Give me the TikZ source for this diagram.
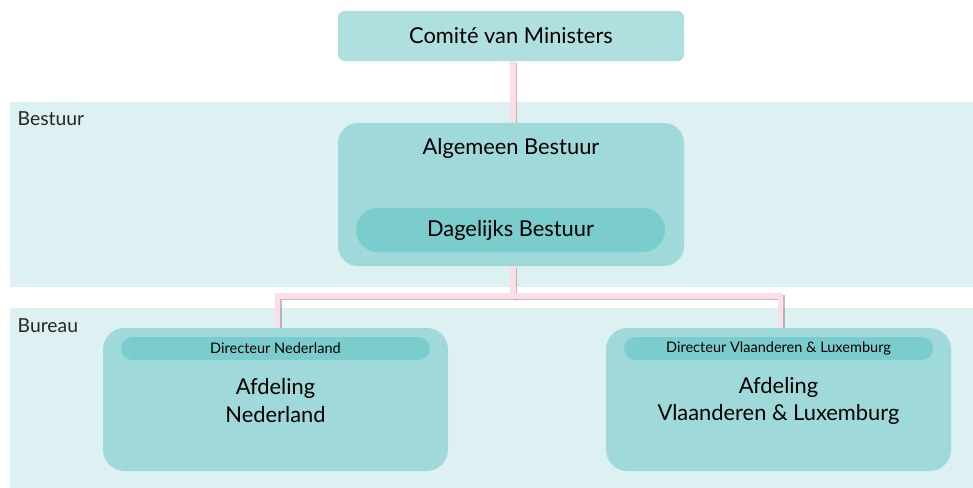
\documentclass[tikz,border=0pt]{standalone}
\usepackage{fontspec}
\setmainfont{Lato}
\begin{document}
\begin{tikzpicture}[x=0.75pt,y=-0.75pt,
  band/.style={fill=bandc, draw=none},
  box/.style 2 args={minimum width=#1*0.75pt, minimum height=#2*0.75pt, inner sep=0pt, draw=none, align=center},
  link/.style={draw=linkc, line width=3.8pt},
  linkshadow/.style={draw=black!55, line width=3.8pt, opacity=0.45},
  title/.style={font=\fontsize{16.4}{20.3}\selectfont, text=black},
  small/.style={font=\fontsize{10.9}{13}\selectfont, text=black},
  bandlabel/.style={font=\fontsize{14.5}{17}\selectfont, text=black!85, anchor=west}
]
\definecolor{bandc}{HTML}{DDF0F2}
\definecolor{topc}{HTML}{B0DFE0}
\definecolor{boxc}{HTML}{9FD9DA}
\definecolor{barc}{HTML}{7BCCCD}
\definecolor{linkc}{HTML}{FCDEE4}
\useasboundingbox (0,0) rectangle (973,488);
\fill[white] (0,0) rectangle (973,488);
% bands
\path[band] (10,102) rectangle (973,287);
\path[band] (10,308) rectangle (973,488);
\node[bandlabel] (lblbestuur) at (13,119) {Bestuur};
\node[bandlabel] (lblbureau) at (13,326) {Bureau};
% nodes (positions)
\node[box={346}{50}] (comite) at (511,36) {};
\node[box={346}{143}] (alg) at (511,194.5) {};
\node[box={345}{143}] (left) at (277.5,399.5) {};
\node[box={345}{143}] (right) at (780.5,399.5) {};
\coordinate (junc) at (513,296);
% connectors
\begin{scope}[transform canvas={shift={(1.4pt,-1.4pt)}}]
\draw[linkshadow] (comite.south -| junc) -- (alg.north -| junc);
\draw[linkshadow] (alg.south -| junc) -- (junc) -| (left.north);
\draw[linkshadow] (junc) -| (right.north);
\end{scope}
\draw[link] (comite.south -| junc) -- (alg.north -| junc);
\draw[link] (alg.south -| junc) -- (junc) -| (left.north);
\draw[link] (junc) -| (right.north);
% boxes
\node[box={346}{50}, fill=topc, rounded corners=5pt, title] (comite) at (511,36) {Comité van Ministers};
\node[box={346}{143}, fill=boxc, rounded corners=15pt] (alg) at (511,194.5) {};
\node[title] (algtext) at (511,148) {Algemeen Bestuur};
\node[box={309}{44}, fill=barc, rounded corners=16.5pt, title] (dag) at (510.5,230) {Dagelijks Bestuur};
\node[box={345}{143}, fill=boxc, rounded corners=16pt] (left) at (275.5,399.5) {};
\node[box={309}{23}, fill=barc, rounded corners=8.6pt, small] (dirnl) at (275.5,348.5) {Directeur Nederland};
\node[title, align=center] (afdnl) at (275.5,400.5) {Afdeling\\Nederland};
\node[box={345}{143}, fill=boxc, rounded corners=16pt] (right) at (778.5,399.5) {};
\node[box={309}{23}, fill=barc, rounded corners=8.6pt, small] (dirvl) at (778.5,348.5) {Directeur Vlaanderen \& Luxemburg};
\node[title, align=center] (afdvl) at (778.5,400.5) {Afdeling\\Vlaanderen \& Luxemburg};
\end{tikzpicture}
\end{document}
